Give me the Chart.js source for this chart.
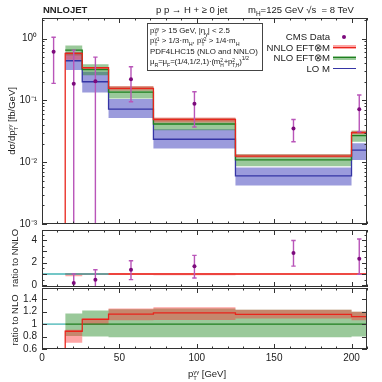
<!DOCTYPE html>
<html lang="en">
<head>
    <meta charset="UTF-8">
    <title>NNLOJET pT diphoton</title>
    <script src="https://cdn.jsdelivr.net/npm/chart.js"></script>
    <style>
        body { margin: 0; background: #fff; }
        #wrap { position: relative; width: 382px; height: 382px; overflow: hidden; }
        #wrap canvas { position: absolute; left: 0; top: 0; }
        .lbl {
            position: absolute;
            font-family: 'Liberation Sans', Arial, sans-serif;
            color: #222;
            white-space: nowrap;
            line-height: 1;
        }
        .lbl sub, .lbl sup { font-size: 68%; line-height: 0; }
        .ss {
            display: inline-flex;
            flex-direction: column;
            font-size: 62%;
            line-height: 1;
            vertical-align: 0.45em;
            margin: -0.8em 0;
        }
        .rot { transform: translate(-50%, -50%) rotate(-90deg); }
        #info {
            position: absolute; left: 147px; top: 23px; width: 112px; height: 44px;
            border: 1px solid #444; background: #fff;
            font-size: 7.9px; line-height: 10.3px; padding: 2px 0 0 2px;
        }
        #info div { white-space: nowrap; height: 10.3px; }
        .key { position: absolute; right: 52px; font-size: 9.6px; text-align: right; }
        .mark { position: absolute; }
    </style>
</head>
<body>
<div id="wrap">
    <canvas id="mainChart" width="382" height="382"></canvas>
    <canvas id="nnloChart" width="382" height="382"></canvas>
    <canvas id="nloChart" width="382" height="382"></canvas>

    <div class="lbl" style="left:43px;top:5px;font-size:9.5px;font-weight:bold;">NNLOJET</div>
    <div class="lbl" style="left:156px;top:5px;font-size:9.5px;">p p &rarr; H + &ge; 0 jet</div>
    <div class="lbl" style="left:248px;top:5px;font-size:9.5px;">m<sub>H</sub>=125 GeV &radic;s &nbsp;= 8 TeV</div>

    <div class="lbl" id="info">
        <div>p<span class="ss"><span>&gamma;&gamma;</span><span>T</span></span> &gt; 15 GeV, |&eta;<sub>&gamma;</sub>| &lt; 2.5</div>
        <div>p<span class="ss"><span>&gamma;1</span><span>T</span></span> &gt; 1/3&middot;m<sub>H</sub>, p<span class="ss"><span>&gamma;2</span><span>T</span></span> &gt; 1/4&middot;m<sub>H</sub></div>
        <div>PDF4LHC15 (NLO and NNLO)</div>
        <div style="letter-spacing:-0.15px;">&mu;<sub>R</sub>=&mu;<sub>F</sub>=(1/4,1/2,1)&middot;(m<span class="ss"><span>2</span><span>H</span></span>+p<span class="ss"><span>2</span><span>T,H</span></span>)<sup>1/2</sup></div>
    </div>

    <div class="lbl key" style="top:32px;">CMS Data</div>
    <div class="lbl key" style="top:42.5px;">NNLO EFT&otimes;M</div>
    <div class="lbl key" style="top:53px;">NLO EFT&otimes;M</div>
    <div class="lbl key" style="top:64px;">LO M</div>
    <div class="mark" style="left:342px;top:35px;width:4px;height:4px;border-radius:2px;background:#7c0a7c;"></div>
    <div class="mark" style="left:333px;top:45px;width:23px;height:4px;background:rgba(250,55,55,0.45);"></div>
    <div class="mark" style="left:333px;top:46.5px;width:23px;height:1.4px;background:#e8251c;"></div>
    <div class="mark" style="left:333px;top:55.5px;width:23px;height:4px;background:rgba(30,135,30,0.45);"></div>
    <div class="mark" style="left:333px;top:57px;width:23px;height:1.4px;background:#1f7f1f;"></div>
    <div class="mark" style="left:333px;top:68px;width:23px;height:1.4px;background:#3535a5;"></div>

    <div class="lbl rot" style="left:12px;top:121px;font-size:9.5px;">d&sigma;/dp<span class="ss"><span>&gamma;&gamma;</span><span>T</span></span> [fb/GeV]</div>
    <div class="lbl rot" style="left:15px;top:258px;font-size:9.5px;">ratio to NNLO</div>
    <div class="lbl rot" style="left:15px;top:320px;font-size:9.5px;">ratio to NLO</div>
    <div class="lbl" style="left:188px;top:369px;font-size:9.5px;">p<span class="ss"><span>&gamma;&gamma;</span><span>T</span></span> [GeV]</div>
</div>

<script>
    // bins (GeV); NNLO also carries the empty 0-15 bin
    const binEdges = [15, 26, 43, 72, 125, 200, 210];
    const nnloEdges = [0, 15, 26, 43, 72, 125, 200, 210];

    // main panel, dsigma/dpT [fb/GeV]
    const nnloCentral = [0, 0.576, 0.337, 0.156, 0.049, 0.0125, 0.030];
    const nnloLow = [0.455, 0.312, 0.144, 0.044, 0.0119, 0.0284];
    const nnloHigh = [0.60, 0.347, 0.17, 0.0527, 0.0134, 0.0322];
    const nloCentral = [0.65, 0.315, 0.136, 0.0415, 0.0109, 0.0268];
    const nloLow = [0.53, 0.255, 0.107, 0.0328, 0.0086, 0.0214];
    const nloHigh = [0.77, 0.385, 0.168, 0.0515, 0.0134, 0.0322];
    const loCentral = [0.437, 0.2, 0.072, 0.0235, 0.006, 0.0157];
    const loLow = [0.31, 0.134, 0.052, 0.0167, 0.0042, 0.0108];
    const loHigh = [0.6, 0.29, 0.105, 0.034, 0.0082, 0.0202];

    // CMS data (null = error bar runs off the bottom)
    const cmsX = [7.5, 20.5, 34.5, 57.5, 98.5, 162.5, 205];
    const cmsY = [0.61, 0.186, 0.203, 0.219, 0.088, 0.0352, 0.0715];
    const cmsHigh = [1.05, 0.65, 0.50, 0.35, 0.138, 0.049, 0.122];
    const cmsLow = [0.188, null, null, 0.095, 0.037, 0.0214, 0.031];

    // ratio to NNLO panel
    const nnloSelfRatio = [1, 1, 1, 1, 1, 1];
    const nnloSelfLow = [0.80, 0.92, 0.91, 0.90, 0.94, 0.95];
    const nnloSelfHigh = [1.05, 1.02, 1.08, 1.08, 1.065, 1.07];
    const dataRatioX = [20.5, 34.5, 57.5, 98.5, 162.5, 205];
    const dataRatioY = [0.21, 0.5, 1.37, 1.68, 2.87, 2.35];
    const dataRatioHigh = [1.01, 1.38, 2.18, 2.65, 3.97, 4.1];
    const dataRatioLow = [null, null, 0.5, 0.65, 1.7, 0.97];

    // ratio to NLO panel
    const nloSelfRatio = [1, 1, 1, 1, 1, 1];
    const nloSelfLow = [0.81, 0.80, 0.79, 0.79, 0.79, 0.80];
    const nloSelfHigh = [1.17, 1.22, 1.24, 1.25, 1.23, 1.20];
    const nnloOverNlo = [0, 0.885, 1.075, 1.16, 1.18, 1.155, 1.12];
    const nnloOverNloLow = [0.70, 0.99, 1.06, 1.065, 1.09, 1.06];
    const nnloOverNloHigh = [0.91, 1.10, 1.25, 1.27, 1.23, 1.20];

    // reference line y = 1 (x extent as seen)
    const refNnloX = [0, 43];
    const refNloX = [0, 15];

    // axes
    const xRange = [0, 210];
    const xMajorTicks = [0, 50, 100, 150, 200];
    const mainYRange = [0.001, 2.15];
    const mainYMajor = [0.001, 0.01, 0.1, 1];
    const nnloYRange = [-0.15, 4.9];
    const nnloYTicks = [0, 1, 2, 3, 4];
    const nloYRange = [0.6, 1.58];
    const nloYTicks = [0.6, 0.8, 1, 1.2, 1.4];

    const C = {
        nnlo: '#e8251c', nnloBand: 'rgba(250,55,55,0.45)',
        nlo: '#1f7f1f', nloBand: 'rgba(30,135,30,0.45)',
        lo: '#3535a5', loBand: 'rgba(55,55,185,0.5)',
        data: '#7c0a7c', err: '#b955b9', ref: '#45b5b5'
    };
    const FONT = "'Liberation Sans', Arial, sans-serif";

    function stepPoints(edges, vals) {
        const pts = vals.map((v, i) => ({x: edges[i], y: v}));
        pts.push({x: edges[edges.length - 1], y: vals[vals.length - 1]});
        return pts;
    }
    function histLine(edges, vals, color) {
        return {data: stepPoints(edges, vals), borderColor: color, borderWidth: 1.3,
                stepped: true, pointRadius: 0, fill: false};
    }
    function band(edges, lo, hi, color) {
        return [
            {data: stepPoints(edges, lo), borderColor: 'rgba(0,0,0,0)', borderWidth: 0,
             stepped: true, pointRadius: 0, fill: false},
            {data: stepPoints(edges, hi), borderColor: 'rgba(0,0,0,0)', borderWidth: 0,
             stepped: true, pointRadius: 0, fill: '-1', backgroundColor: color}
        ];
    }
    function points(xs, ys) {
        return {data: xs.map((x, i) => ({x: x, y: ys[i]})), showLine: false, isData: true,
                pointRadius: 2, pointBackgroundColor: C.data, pointBorderWidth: 0};
    }
    function refLine(xs) {
        return {data: xs.map(x => ({x: x, y: 1})), borderColor: C.ref, borderWidth: 1.3,
                pointRadius: 0, fill: false};
    }
    // first in the list is drawn first
    function ordered(sets) {
        sets.forEach((d, i) => { d.order = sets.length - i; });
        return sets;
    }

    const supMap = {'-': '\u207B', '0': '\u2070', '1': '\u00B9', '2': '\u00B2', '3': '\u00B3'};
    function powLabel(v) {
        const e = String(Math.round(Math.log10(v)));
        return '10' + e.split('').map(c => supMap[c]).join('');
    }

    // error bars drawn right before the data points
    const errorBarPlugin = {
        id: 'errorBars',
        beforeDatasetDraw(chart, args, opts) {
            if (!opts.x || !chart.data.datasets[args.index].isData) return;
            const {ctx, chartArea: a, scales: {x, y}} = chart;
            ctx.save();
            ctx.beginPath();
            ctx.rect(a.left, a.top, a.right - a.left, a.bottom - a.top);
            ctx.clip();
            ctx.strokeStyle = C.err;
            ctx.lineWidth = 1.4;
            opts.x.forEach((xv, i) => {
                const px = x.getPixelForValue(xv);
                const top = y.getPixelForValue(opts.hi[i]);
                const bot = opts.lo[i] == null ? a.bottom + 5 : y.getPixelForValue(opts.lo[i]);
                ctx.beginPath();
                ctx.moveTo(px, top); ctx.lineTo(px, bot);
                ctx.moveTo(px - 2.2, top); ctx.lineTo(px + 2.2, top);
                if (opts.lo[i] != null) { ctx.moveTo(px - 2.2, bot); ctx.lineTo(px + 2.2, bot); }
                ctx.stroke();
            });
            ctx.restore();
        }
    };

    // gnuplot style frame with inward ticks
    const framePlugin = {
        id: 'frame',
        afterDraw(chart, args, opts) {
            const {ctx, chartArea: a, scales: {x, y}} = chart;
            ctx.save();
            ctx.strokeStyle = '#333';
            ctx.lineWidth = 1;
            ctx.strokeRect(Math.round(a.left) + 0.5, Math.round(a.top) + 0.5,
                           Math.round(a.right - a.left) - 1, Math.round(a.bottom - a.top) - 1);
            ctx.beginPath();
            const yTick = (v, len) => {
                const py = Math.round(y.getPixelForValue(v)) + 0.5;
                ctx.moveTo(a.left, py); ctx.lineTo(a.left + len, py);
                ctx.moveTo(a.right, py); ctx.lineTo(a.right - len, py);
            };
            const xTick = (v, len) => {
                const px = Math.round(x.getPixelForValue(v)) + 0.5;
                ctx.moveTo(px, a.bottom); ctx.lineTo(px, a.bottom - len);
                ctx.moveTo(px, a.top); ctx.lineTo(px, a.top + len);
            };
            opts.yMajor.forEach(v => yTick(v, 5));
            (opts.yMinor || []).forEach(v => yTick(v, 2.5));
            for (let v = xRange[0]; v <= xRange[1]; v += 10) {
                xTick(v, xMajorTicks.includes(v) ? 5 : 2.5);
            }
            ctx.stroke();
            ctx.restore();
        }
    };

    Chart.register(errorBarPlugin, framePlugin);

    function yAxis(range, ticks, type, callback) {
        return {
            type: type, min: range[0], max: range[1],
            afterBuildTicks: s => { s.ticks = ticks.map(v => ({value: v})); },
            afterFit: s => { s.width = 42; },
            grid: {display: false, drawTicks: false},
            border: {display: false},
            ticks: {padding: 5, color: '#222', font: {family: FONT, size: 10}, callback: callback}
        };
    }
    function xAxis(show) {
        return {
            type: 'linear', min: xRange[0], max: xRange[1], display: show,
            afterBuildTicks: s => { s.ticks = xMajorTicks.map(v => ({value: v})); },
            afterFit: s => { s.height = show ? 33 : 0; },
            grid: {display: false, drawTicks: false},
            border: {display: false},
            ticks: {padding: 3, color: '#222', maxRotation: 0, autoSkip: false,
                    font: {family: FONT, size: 10}}
        };
    }
    function baseOptions(padding, x, y, frame, errs) {
        return {
            responsive: false, animation: false, devicePixelRatio: 1,
            layout: {padding: padding},
            plugins: {legend: {display: false}, tooltip: {enabled: false},
                      frame: frame, errorBars: errs},
            scales: {x: x, y: y}
        };
    }

    // main panel
    const floor = v => (v > 0 ? v : mainYRange[0]);
    const logMinor = [];
    mainYMajor.forEach(d => { for (let m = 2; m <= 9; m++) if (d * m < mainYRange[1]) logMinor.push(d * m); });

    new Chart(document.getElementById('mainChart'), {
        type: 'line',
        data: {datasets: ordered([
            ...band(binEdges, loLow, loHigh, C.loBand),
            ...band(binEdges, nloLow, nloHigh, C.nloBand),
            ...band(binEdges, nnloLow, nnloHigh, C.nnloBand),
            histLine(binEdges, loCentral, C.lo),
            histLine(binEdges, nloCentral, C.nlo),
            histLine(nnloEdges, nnloCentral.map(floor), C.nnlo),
            points(cmsX, cmsY)
        ])},
        options: baseOptions({top: 18, bottom: 158, left: 0, right: 15}, xAxis(false),
            yAxis(mainYRange, mainYMajor, 'logarithmic', v => powLabel(v)),
            {yMajor: mainYMajor, yMinor: logMinor},
            {x: cmsX, lo: cmsLow, hi: cmsHigh})
    });

    // ratio to NNLO
    new Chart(document.getElementById('nnloChart'), {
        type: 'line',
        data: {datasets: ordered([
            ...band(binEdges, nnloSelfLow, nnloSelfHigh, C.nnloBand),
            histLine(binEdges, nnloSelfRatio, C.nnlo),
            refLine(refNnloX),
            points(dataRatioX, dataRatioY)
        ])},
        options: baseOptions({top: 230, bottom: 95, left: 0, right: 15}, xAxis(false),
            yAxis(nnloYRange, nnloYTicks, 'linear', v => v),
            {yMajor: nnloYTicks, yMinor: [0.5, 1.5, 2.5, 3.5, 4.5]},
            {x: dataRatioX, lo: dataRatioLow, hi: dataRatioHigh})
    });

    // ratio to NLO
    new Chart(document.getElementById('nloChart'), {
        type: 'line',
        data: {datasets: ordered([
            ...band(binEdges, nloSelfLow, nloSelfHigh, C.nloBand),
            ...band(binEdges, nnloOverNloLow, nnloOverNloHigh, C.nnloBand),
            histLine(binEdges, nloSelfRatio, C.nlo),
            histLine(nnloEdges, nnloOverNlo, C.nnlo),
            refLine(refNloX)
        ])},
        options: baseOptions({top: 288, bottom: 0, left: 0, right: 15}, xAxis(true),
            yAxis(nloYRange, nloYTicks, 'linear', v => v),
            {yMajor: nloYTicks},
            {})
    });
</script>
</body>
</html>
